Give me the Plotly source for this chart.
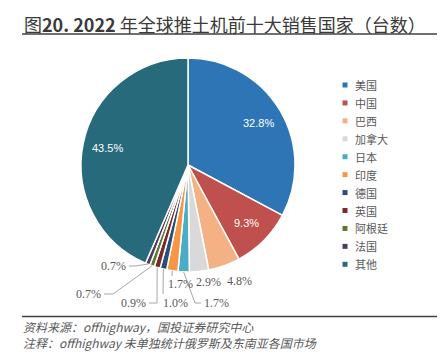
import math
import plotly.graph_objects as go

countries = ["美国", "中国", "巴西", "加拿大", "日本", "印度", "德国", "英国", "阿根廷", "法国", "其他"]
shares = [32.8, 9.3, 4.8, 2.9, 1.7, 1.7, 1.0, 0.9, 0.7, 0.7, 43.5]
colors = ["#2E75B6", "#C0504D", "#F4B183", "#D9D9D9", "#4BACC6", "#F79646",
          "#2C4D75", "#772C2A", "#5F7530", "#4D3B62", "#276A7C"]

title_head = "图"
title_bold = "20. 2022"
title_rest = " 年全球推土机前十大销售国家（台数）"
source_text = "资料来源：offhighway，国投证券研究中心"
note_text = "注释：offhighway 未单独统计俄罗斯及东南亚各国市场"

# the page body adds an 8px margin, so the figure is sized to fill the rest of the window
OFF = 8
W, H = 446 - OFF, 355 - OFF
CX, CY, R = 188, 165, 107  # pie centre / radius in window pixels


def px(x):
    return (x - OFF) / W


def py(y):
    return 1 - (y - OFF) / H


fig = go.Figure(go.Pie(
    labels=countries, values=shares, sort=False, direction="clockwise", rotation=0,
    marker=dict(colors=colors, line=dict(color="white", width=1.5)),
    textinfo="none", showlegend=False,
    domain=dict(x=[px(CX - R), px(CX + R)], y=[py(CY + R), py(CY - R)]),
    hoverinfo="label+value",
))

# slice mid-angles derived from the data
total = sum(shares)
mids = []
acc = 0.0
for v in shares:
    mids.append((acc + v / 2) / total * 2 * math.pi)
    acc += v


def polar(i, frac):
    a = mids[i]
    return CX + frac * R * math.sin(a), CY - frac * R * math.cos(a)


annotations = []
shapes = []

# inside labels for the large slices
for i, v in enumerate(shares):
    if v >= 5:
        x, y = polar(i, 0.77)
        annotations.append(dict(text=f"{v:.1f}%", x=px(x), y=py(y), xref="paper", yref="paper",
                                showarrow=False, xanchor="center", yanchor="middle",
                                font=dict(size=11, color="white", family="Liberation Sans")))

# outside label layout for the small slices: (label x, label y, anchor, elbow points)
outside_layout = {
    2: (239, 281, "center", []),
    3: (208, 282, "center", []),
    4: (202, 303, "left", [(195, 303), (201, 303)]),
    5: (166, 284, "left", [(172, 276)]),
    6: (161, 303, "left", [(163, 294)]),
    7: (148, 303, "right", [(157, 303), (149, 303)]),
    8: (103, 294, "right", [(113, 294), (104, 294)]),
    9: (128, 266, "right", [(135, 266), (129, 266)]),
}
for i, (lx, ly, anchor, pts) in outside_layout.items():
    annotations.append(dict(text=f"{shares[i]:.1f}%", x=px(lx), y=py(ly), xref="paper", yref="paper",
                            showarrow=False, xanchor=anchor, yanchor="middle",
                            font=dict(size=12, color="#595959", family="Liberation Serif")))
    if pts:
        rx, ry = polar(i, 1.0)
        path = f"M {px(rx)} {py(ry)}" + "".join(f" L {px(a)} {py(b)}" for a, b in pts)
        shapes.append(dict(type="path", path=path, xref="paper", yref="paper",
                           line=dict(color="#A6A6A6", width=1)))

# legend (custom, to match the compact spacing)
for k, (name, col) in enumerate(zip(countries, colors)):
    yy = 85 + k * 17.93
    shapes.append(dict(type="rect", xref="paper", yref="paper",
                       x0=px(342.5), x1=px(347.5), y0=py(yy + 2.5), y1=py(yy - 2.5),
                       fillcolor=col, line=dict(width=0)))
    annotations.append(dict(text=name, x=px(353), y=py(yy), xref="paper", yref="paper",
                            showarrow=False, xanchor="left", yanchor="middle",
                            font=dict(size=11, color="#595959", family="Noto Sans CJK SC")))

# title, rules and footnotes
shapes += [
    dict(type="line", xref="paper", yref="paper", x0=px(22), x1=px(437),
         y0=py(34), y1=py(34), line=dict(color="#404040", width=1.3)),
    dict(type="line", xref="paper", yref="paper", x0=px(22), x1=px(437),
         y0=py(316.5), y1=py(316.5), line=dict(color="#404040", width=1.3)),
]
annotations += [
    dict(text=title_head + "<b>" + title_bold + "</b>" + title_rest, x=px(22), y=py(23.5),
         xref="paper", yref="paper", xanchor="left", yanchor="middle", showarrow=False,
         font=dict(size=18, color="#3A3A3A", family="Noto Sans CJK SC")),
    dict(text="<i>" + source_text + "</i>", x=px(22), y=py(326), xref="paper", yref="paper",
         xanchor="left", yanchor="middle", showarrow=False, borderpad=0,
         font=dict(size=12, color="#595959", family="Noto Sans CJK SC")),
    dict(text="<i>" + note_text + "</i>", x=px(22), y=py(342.5), xref="paper", yref="paper",
         xanchor="left", yanchor="middle", showarrow=False, borderpad=0,
         font=dict(size=12, color="#595959", family="Noto Sans CJK SC")),
]

fig.update_layout(
    width=W, height=H, margin=dict(l=0, r=0, t=0, b=0),
    paper_bgcolor="white", plot_bgcolor="white",
    showlegend=False,
    shapes=shapes, annotations=annotations,
)

fig.write_html("out.html")
